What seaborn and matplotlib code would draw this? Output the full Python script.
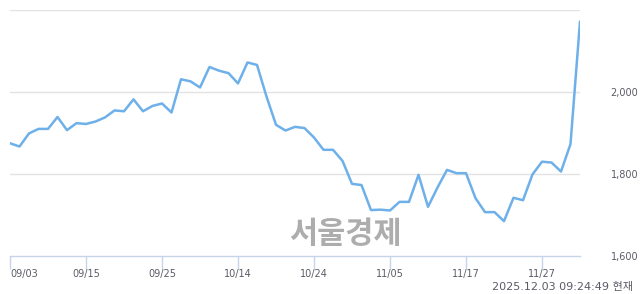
import numpy as np
import pandas as pd
import matplotlib
matplotlib.use("Agg")
import matplotlib.pyplot as plt
import seaborn as sns

prices = [1875, 1867, 1899, 1910, 1910, 1939, 1907, 1924, 1922, 1928,
          1938, 1955, 1953, 1982, 1953, 1966, 1972, 1950, 2031, 2026,
          2011, 2061, 2052, 2046, 2021, 2072, 2066, 1989, 1920, 1906,
          1915, 1912, 1889, 1859, 1859, 1832, 1776, 1773, 1712, 1713,
          1711, 1732, 1732, 1798, 1720, 1767, 1810, 1802, 1802, 1741,
          1707, 1707, 1685, 1742, 1736, 1799, 1830, 1828, 1806, 1873,
          2172]
tick_positions = [0, 8, 16, 24, 32, 40, 48, 56]
tick_labels = ["09/03", "09/15", "09/25", "10/14", "10/24", "11/05", "11/17", "11/27"]
y_ticks = [1600, 1800, 2000]
y_tick_labels = ["1,600", "1,800", "2,000"]
stamp = "2025.12.03 09:24:49 현재"
watermark = "서울경제"

sns.set_theme(style="white")
plt.rcParams['font.family'] = ['DejaVu Sans', 'Noto Sans CJK KR']

df = pd.DataFrame({"idx": np.arange(len(prices)), "price": prices})

W, H = 640, 294
fig = plt.figure(figsize=(W / 100, H / 100), dpi=100)
ax = fig.add_axes([10 / W, 1 - 256 / H, 570 / W, 246 / H])

text_color = "#5b5b66"
grid_color = "#e3e3e3"
axis_color = "#c6d3ea"

for yv in [1800, 2000, 2200]:
    ax.axhline(yv, color=grid_color, lw=1, zorder=0)

sns.lineplot(data=df, x="idx", y="price", ax=ax, color="#6eb0ea", lw=1.8, zorder=3)

ax.set_xlim(0, len(prices) - 1)
ax.set_ylim(1600, 2200)
ax.set_xlabel("")
ax.set_ylabel("")

for s in ["top", "left", "right"]:
    ax.spines[s].set_visible(False)
ax.spines["bottom"].set_color(axis_color)
ax.spines["bottom"].set_linewidth(1)

ax.set_xticks(tick_positions)
ax.set_xticklabels(tick_labels)
ax.tick_params(axis="x", length=9, width=1, color=axis_color, pad=0,
               labelsize=7, labelcolor=text_color, bottom=True)
lbls = ax.get_xticklabels()
lbls[0].set_horizontalalignment("left")

ax.yaxis.tick_right()
ax.set_yticks(y_ticks)
ax.set_yticklabels(y_tick_labels)
ax.tick_params(axis="y", length=0, pad=22, labelsize=7, labelcolor=text_color, right=False, left=False)

fig.text(345 / W, 1 - 234 / H, watermark, family=['Noto Sans CJK KR'], fontweight="bold",
         fontsize=22, color="#adadad", ha="center", va="center", zorder=1)

fig.text(633 / W, 1 - 287 / H, stamp, family=['DejaVu Sans', 'Noto Sans CJK KR'],
         fontsize=8, color=text_color, ha="right", va="center")

fig.savefig("out.png", dpi=100)
